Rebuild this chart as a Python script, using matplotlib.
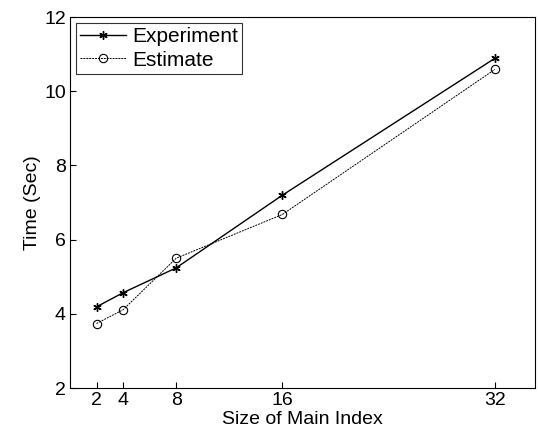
import matplotlib
matplotlib.use("Agg")
import matplotlib.pyplot as plt

plt.rcParams['font.family'] = ['Liberation Sans', 'DejaVu Sans']

sizes = [2, 4, 8, 16, 32]
experiment = [4.19, 4.57, 5.24, 7.2, 10.89]
estimate = [3.74, 4.11, 5.5, 6.68, 10.59]
xticks = [2, 4, 8, 16, 32]
yticks = [2, 4, 6, 8, 10, 12]

fig = plt.figure(figsize=(5.38, 4.38), dpi=100)
ax = fig.add_axes([0.130, 0.114, 0.864, 0.847])
ax.plot(sizes, experiment, '-', color='black', lw=1.0, marker=(6, 2, 0), ms=6, mew=1.0, label='Experiment')
ax.plot(sizes, estimate, linestyle=(0, (2, 1)), color='black', lw=0.7, marker='o', ms=6,
        mfc='none', mew=0.8, label='Estimate')
ax.set_xlim(0, 35)
ax.set_ylim(2, 12)
ax.set_xticks(xticks)
ax.set_yticks(yticks)
ax.tick_params(direction='in', labelsize=14, length=4, pad=3)
ax.set_xlabel('Size of Main Index', fontsize=14, labelpad=1)
ax.set_ylabel('Time (Sec)', fontsize=14, labelpad=2)
leg = ax.legend(loc='upper left', fontsize=15, frameon=True, fancybox=False,
                edgecolor='black', borderaxespad=0.3, handlelength=2.2,
                handletextpad=0.3, borderpad=0.2, labelspacing=0.2)
leg.get_frame().set_linewidth(0.8)
fig.savefig('out.png', dpi=100)
